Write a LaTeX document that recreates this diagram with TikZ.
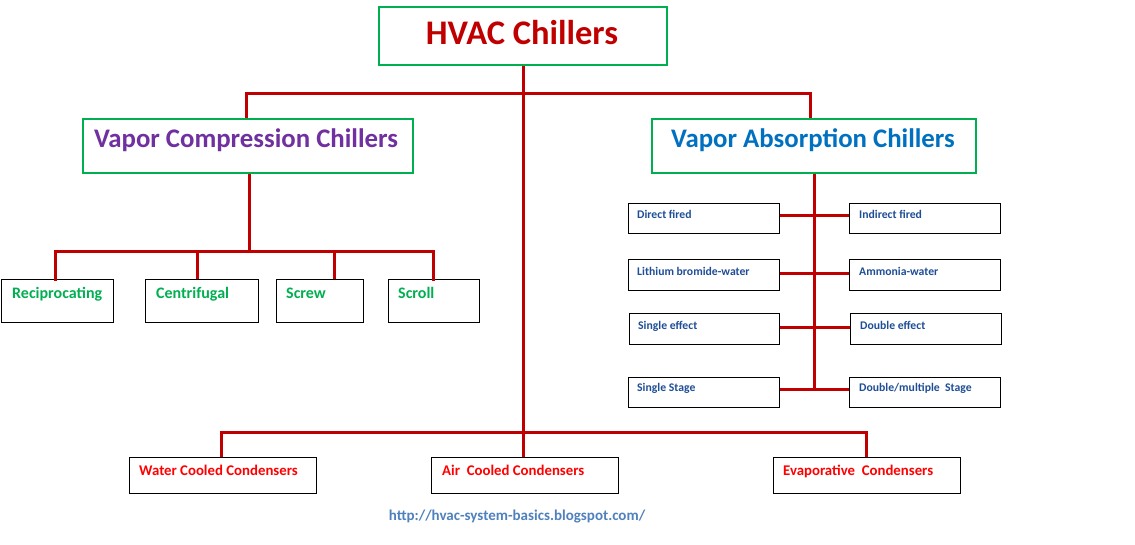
\documentclass[tikz,border=0pt]{standalone}
\usepackage{fontspec}
\setmainfont{Carlito}
\usetikzlibrary{calc}
\definecolor{linered}{HTML}{C00000}
\definecolor{boxgreen}{HTML}{00B050}
\definecolor{titlered}{HTML}{C00000}
\definecolor{vcpurple}{HTML}{7030A0}
\definecolor{vablue}{HTML}{0070C0}
\definecolor{subblue}{HTML}{1F4E96}
\definecolor{condred}{HTML}{FF0000}
\definecolor{urlblue}{HTML}{4F81BD}
\begin{document}
\begin{tikzpicture}[x=1pt,y=-1pt,
  conn/.style={draw=linered,line width=3pt},
  bigbox/.style={draw=boxgreen,line width=1.8pt,fill=white,inner sep=0pt},
  smallbox/.style={draw=black,line width=1pt,fill=white,inner sep=0pt},
  greentxt/.style={text=boxgreen,font=\bfseries\fontsize{16}{18}\selectfont,anchor=base west,inner sep=0pt},
  bluetxt/.style={text=subblue,font=\bfseries\fontsize{11.7}{13}\selectfont,anchor=base west,inner sep=0pt},
  redtxt/.style={text=condred,font=\bfseries\fontsize{14.8}{16}\selectfont,anchor=base west,inner sep=0pt},
]
\useasboundingbox (0,0) rectangle (1135,544);
\fill[white] (0,0) rectangle (1135,544);

% coordinates
\coordinate (topj) at (523,93);
\coordinate (lj) at (246,93);
\coordinate (rj) at (810,93);
\coordinate (bl) at (221,432);
\coordinate (br) at (866,432);
\coordinate (vcj) at (249,251);
\coordinate (vc1) at (55,251);
\coordinate (vc4) at (433,251);
\coordinate (vaj) at (814,389);

% small boxes
\node[smallbox,minimum width=112pt,minimum height=43pt,anchor=north west] (rec) at (1,279) {};
\node[smallbox,minimum width=113pt,minimum height=43pt,anchor=north west] (cen) at (145,279) {};
\node[smallbox,minimum width=87pt,minimum height=43pt,anchor=north west] (scr) at (276,279) {};
\node[smallbox,minimum width=91pt,minimum height=43pt,anchor=north west] (scl) at (388,279) {};

\node[smallbox,minimum width=151pt,minimum height=30pt,anchor=north west] (df) at (628,203) {};
\node[smallbox,minimum width=151pt,minimum height=30pt,anchor=north west] (idf) at (849,203) {};
\node[smallbox,minimum width=151pt,minimum height=31pt,anchor=north west] (lb) at (628,259) {};
\node[smallbox,minimum width=151pt,minimum height=31pt,anchor=north west] (am) at (849,259) {};
\node[smallbox,minimum width=150pt,minimum height=31pt,anchor=north west] (se) at (629,313) {};
\node[smallbox,minimum width=151pt,minimum height=31pt,anchor=north west] (de) at (850,313) {};
\node[smallbox,minimum width=151pt,minimum height=30pt,anchor=north west] (ss) at (628,377) {};
\node[smallbox,minimum width=151pt,minimum height=30pt,anchor=north west] (ds) at (849,377) {};

\node[smallbox,minimum width=187pt,minimum height=36pt,anchor=north west] (wc) at (129,457) {};
\node[smallbox,minimum width=187pt,minimum height=36pt,anchor=north west] (ac) at (431,457) {};
\node[smallbox,minimum width=187pt,minimum height=36pt,anchor=north west] (ec) at (773,457) {};

% main boxes
\node[bigbox,minimum width=288pt,minimum height=58pt,anchor=north west] (hvac) at (378,6) {};
\node[bigbox,minimum width=330pt,minimum height=54pt,anchor=north west] (vcc) at (82,118) {};
\node[bigbox,minimum width=324pt,minimum height=54pt,anchor=north west] (vac) at (651,118) {};

% connectors
\draw[conn] (hvac.south -| topj) -- (topj) -- (ac.north -| topj);
\draw[conn] (lj |- vcc.north) -- (lj) -- (rj) -- (rj |- vac.north);
\draw[conn] (vcc.south -| vcj) -- (vcj);
\draw[conn,line cap=rect] (rec.north -| vc1) -- (vc1) -- (vc4) -- (scl.north -| vc4);
\draw[conn] (cen.north -| 197,0) -- (197,251);
\draw[conn] (scr.north -| 334,0) -- (334,251);
\draw[conn] (wc.north -| bl) -- (bl) -- (br) -- (ec.north -| br);

\draw[conn] (vac.south -| vaj) -- (vaj);
\draw[conn] (df.east |- 0,215) -- (idf.west |- 0,215);
\draw[conn] (lb.east |- 0,273) -- (am.west |- 0,273);
\draw[conn] (se.east |- 0,327) -- (de.west |- 0,327);
\draw[conn] (ss.east |- 0,389) -- (ds.west |- 0,389);

% texts
\node[text=titlered,font=\bfseries\fontsize{34.5}{38}\selectfont,anchor=base,inner sep=0pt] (thvac) at (522,44) {HVAC Chillers};
\node[text=vcpurple,font=\bfseries\fontsize{26.8}{30}\selectfont,anchor=base,inner sep=0pt] (tvc) at (246,147) {Vapor Compression Chillers};
\node[text=vablue,font=\bfseries\fontsize{26.8}{30}\selectfont,anchor=base,inner sep=0pt] (tva) at (813,147) {Vapor Absorption Chillers};

\node[greentxt] (trec) at (12,298) {Reciprocating};
\node[greentxt] (tcen) at (156,298) {Centrifugal};
\node[greentxt] (tscr) at (286,298) {Screw};
\node[greentxt] (tscl) at (398,298) {Scroll};

\node[bluetxt] (tdf) at (637,218) {Direct fired};
\node[bluetxt] (tidf) at (859,218) {Indirect fired};
\node[bluetxt] (tlb) at (637,275) {Lithium bromide-water};
\node[bluetxt] (tam) at (859,275) {Ammonia-water};
\node[bluetxt] (tse) at (638,329) {Single effect};
\node[bluetxt] (tde) at (860,329) {Double effect};
\node[bluetxt] (tss) at (637,391) {Single Stage};
\node[bluetxt] (tds) at (859,391) {Double/multiple\ \ Stage};

\node[redtxt] (twc) at (139,475) {Water Cooled Condensers};
\node[redtxt] (tac) at (442,475) {Air\ \ Cooled Condensers};
\node[redtxt] (tec) at (783,475) {Evaporative\ \ Condensers};

\node[text=urlblue,font=\bfseries\fontsize{15}{17}\selectfont,anchor=base,inner sep=0pt] (url) at (517,520) {http://hvac-system-basics.blogspot.com/};
\end{tikzpicture}
\end{document}
